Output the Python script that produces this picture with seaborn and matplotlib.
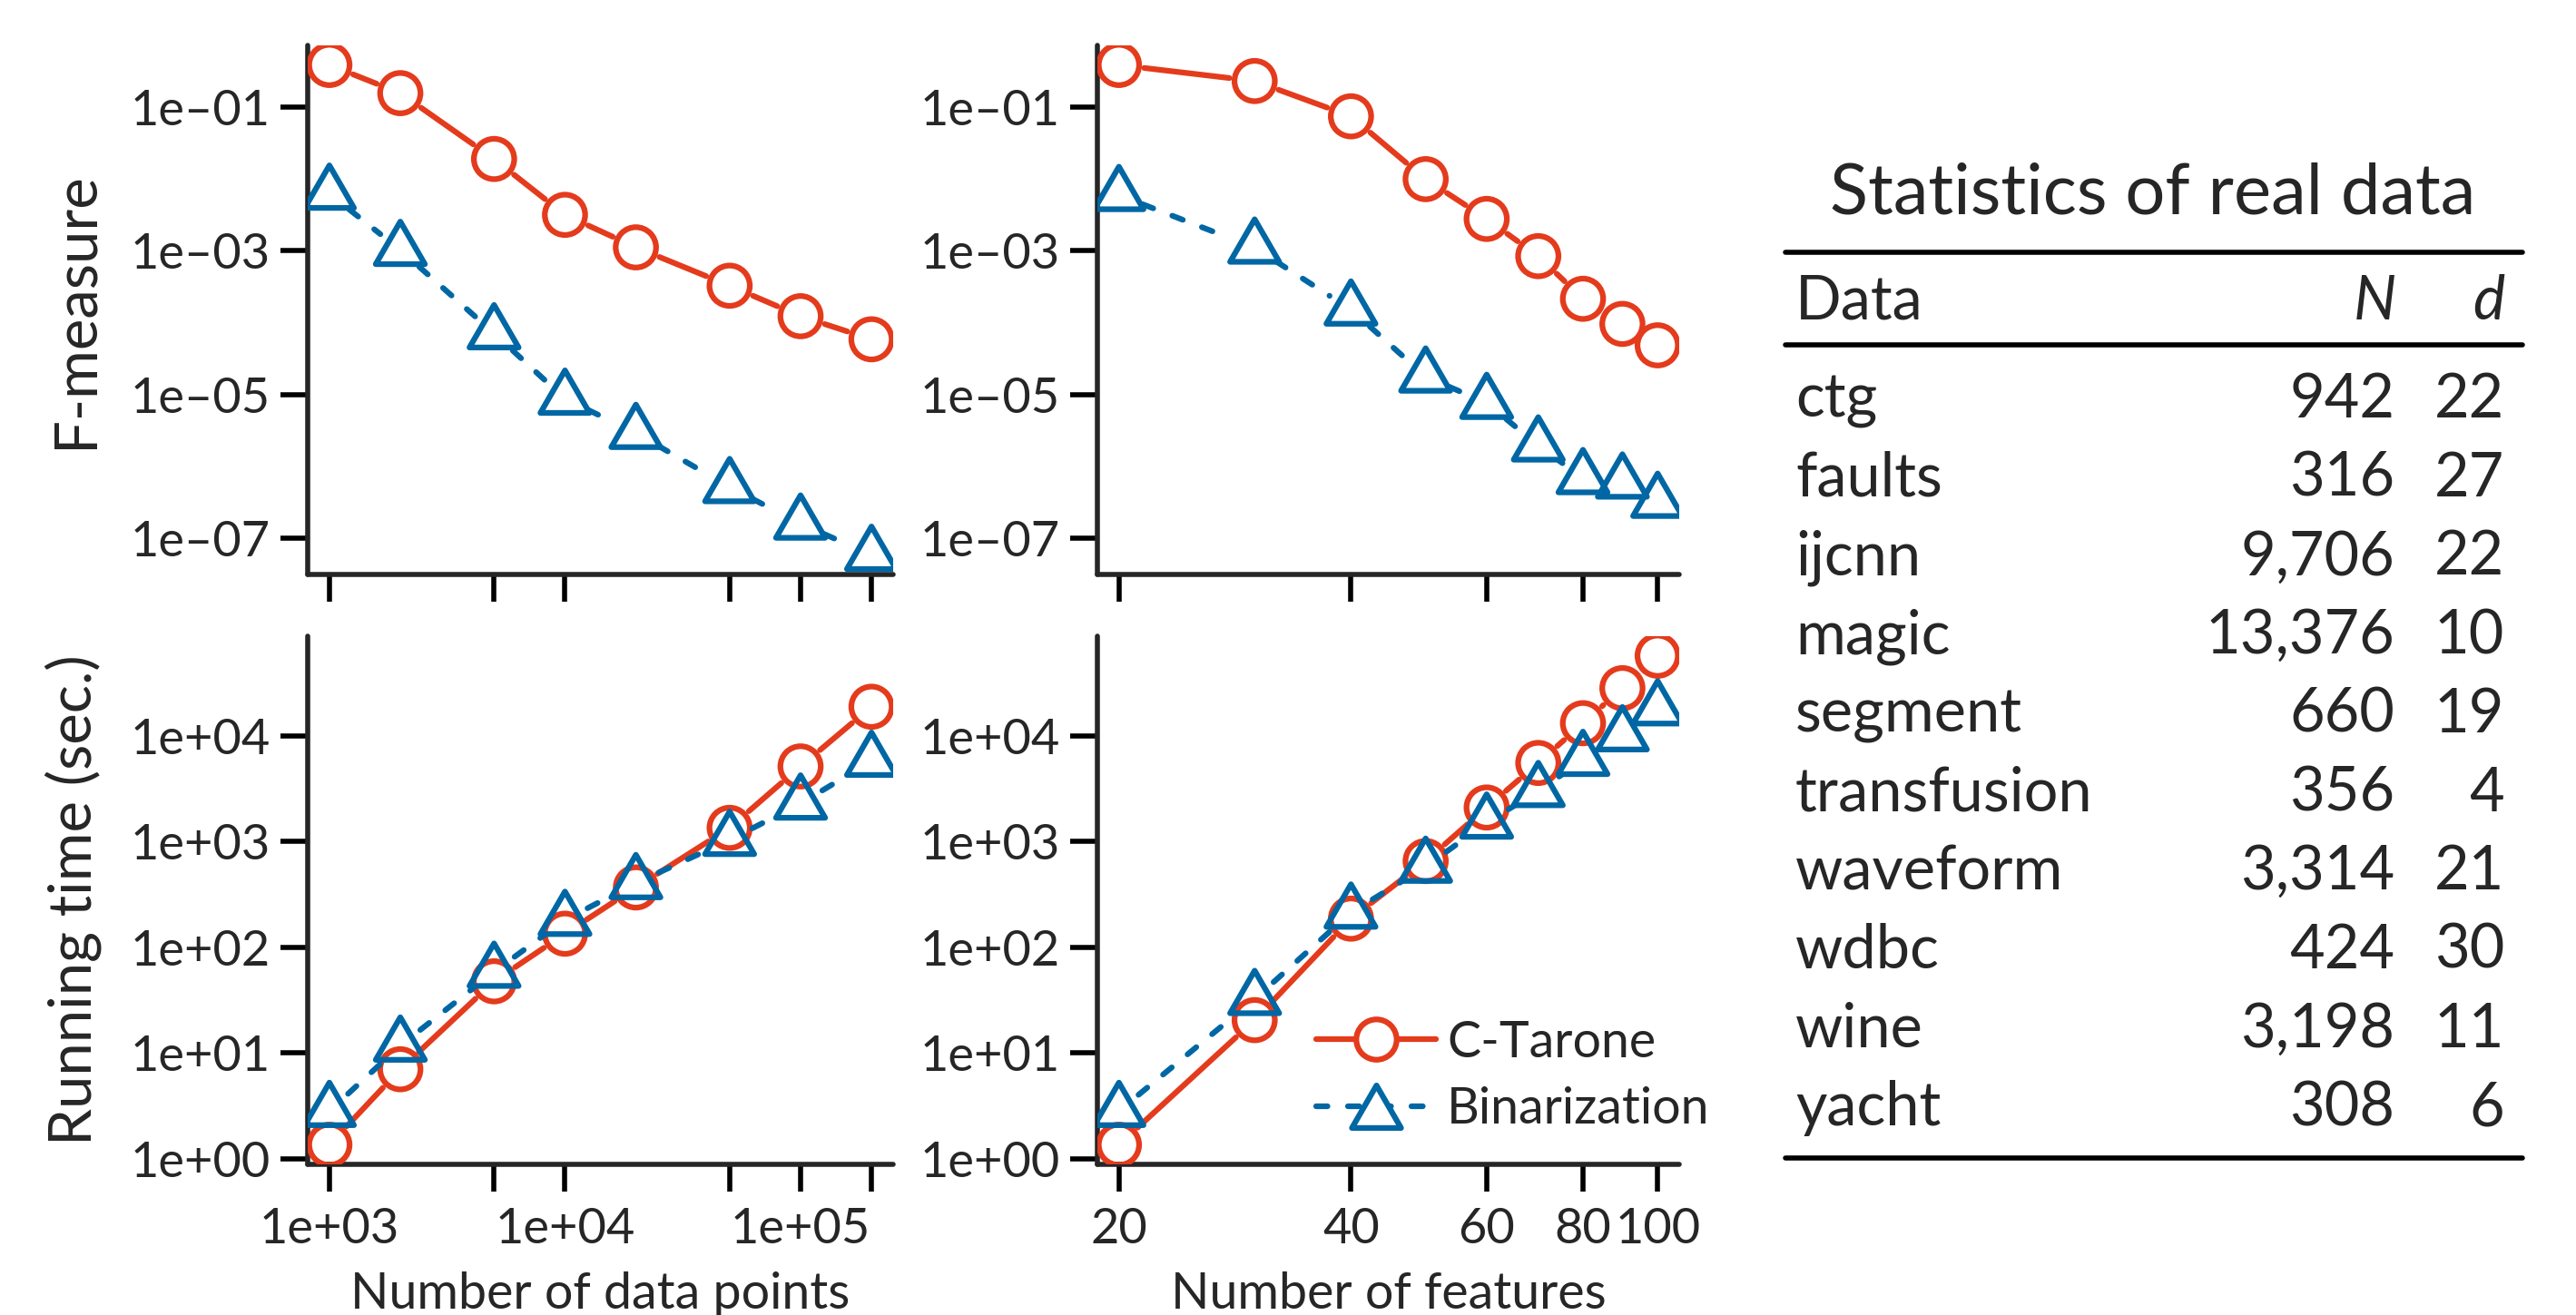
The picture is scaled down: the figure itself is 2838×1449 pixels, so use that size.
import numpy as np
import pandas as pd
import matplotlib
matplotlib.use("Agg")
import matplotlib.pyplot as plt
from matplotlib.path import Path
from matplotlib.lines import Line2D
import seaborn as sns

# ---------------- data ----------------
n_points = [1000, 2000, 5000, 10000, 20000, 50000, 100000, 200000]
fmeasure_ctarone_points = [0.39, 0.158, 0.0191, 0.00318, 0.00112, 3.27e-4, 1.23e-4, 5.86e-5]
fmeasure_binar_points = [6.26e-3, 1.03e-3, 7.1e-5, 8.7e-6, 2.9e-6, 5.1e-7, 1.58e-7, 5.8e-8]
time_ctarone_points = [1.35, 7.0, 47.5, 134, 367, 1345, 5125, 18800]
time_binar_points = [2.82, 11.7, 58.5, 181, 403, 1033, 2280, 5790]

n_features = [20, 30, 40, 50, 60, 70, 80, 90, 100]
fmeasure_ctarone_features = [0.39, 0.233, 0.0751, 0.0100, 2.79e-3, 8.45e-4, 2.15e-4, 9.6e-5, 4.83e-5]
fmeasure_binar_features = [6.0e-3, 1.11e-3, 1.52e-4, 1.77e-5, 7.6e-6, 1.94e-6, 6.8e-7, 5.9e-7, 3.18e-7]
time_ctarone_features = [1.35, 20.4, 186, 652, 2094, 5525, 13140, 28180, 57100]
time_binar_features = [2.82, 32.3, 212, 576, 1506, 2995, 5900, 10090, 17750]

xticks_points = [1e3, 5e3, 1e4, 5e4, 1e5, 2e5]
xticklabels_points = ["1e+03", "", "1e+04", "", "1e+05", ""]
xticks_features = [20, 40, 60, 80, 100]
xticklabels_features = ["20", "40", "60", "80", "100"]
yticks_fmeasure = [1e-1, 1e-3, 1e-5, 1e-7]
yticks_time = [1e0, 1e1, 1e2, 1e3, 1e4]

series_names = ["C-Tarone", "Binarization"]

table_title = "Statistics of real data"
table_header = ["Data", "N", "d"]
data_names = ["ctg", "faults", "ijcnn", "magic", "segment", "transfusion",
              "waveform", "wdbc", "wine", "yacht"]
data_N = [942, 316, 9706, 13376, 660, 356, 3314, 424, 3198, 308]
data_d = [22, 27, 22, 10, 19, 4, 21, 30, 11, 6]

# ---------------- style ----------------
sns.set_style("ticks")
plt.rcParams["font.family"] = ["Lato", "DejaVu Sans"]

RED = "#E43B1D"
BLUE = "#0067A4"
LW = 4.5          # pt
GAP = 28          # px gap around points (R type="b")
MS_CIRCLE = 32    # pt
MS_TRI = 45       # pt
TICK_FS = 39
XLABEL_FS = 40
YLABEL_FS = 47
LEG_FS = 40

W, H = 2838, 1449
fig = plt.figure(figsize=(W / 100, H / 100), dpi=100)


def px_rect(left, top, right, bottom):
    return [left / W, 1 - bottom / H, (right - left) / W, (bottom - top) / H]


def fx(px):
    return px / W


def fy(py):
    return 1 - py / H


def log_lim(*series, frac=0.04):
    v = np.log10(np.concatenate([np.asarray(s, float) for s in series]))
    lo, hi = v.min(), v.max()
    pad = frac * (hi - lo)
    return 10 ** (lo - pad), 10 ** (hi + pad)


tri_centroid = Path([(0, 1), (0.866, -0.5), (-0.866, -0.5), (0, 1)],
                    [Path.MOVETO, Path.LINETO, Path.LINETO, Path.CLOSEPOLY])
tri_legend = Path([(0, 0.75), (0.866, -0.75), (-0.866, -0.75), (0, 0.75)],
                  [Path.MOVETO, Path.LINETO, Path.LINETO, Path.CLOSEPOLY])

LS_SOLID = "-"
LS_DASH = (0, (2.0, 3.6))


def draw_series(ax, x, y, color, marker, ms, ls, z):
    pts = ax.transData.transform(np.column_stack([x, y]))
    inv = ax.transData.inverted()
    rows = []
    for i in range(len(x) - 1):
        p0, p1 = pts[i], pts[i + 1]
        d = p1 - p0
        L = np.hypot(*d)
        if L > 2 * GAP:
            u = d / L
            a = inv.transform(p0 + u * GAP)
            b = inv.transform(p1 - u * GAP)
            rows.append((a[0], a[1], i))
            rows.append((b[0], b[1], i))
    seg = pd.DataFrame(rows, columns=["x", "y", "seg"])
    sns.lineplot(data=seg, x="x", y="y", units="seg", estimator=None, sort=False,
                 color=color, lw=LW, ls=ls, dash_capstyle="round",
                 solid_capstyle="round", ax=ax, zorder=z)
    sns.scatterplot(x=x, y=y, ax=ax, color=color, marker=marker, s=ms ** 2,
                    zorder=z + 0.1)
    coll = ax.collections[-1]
    coll.set_facecolor("none")
    coll.set_edgecolor(color)
    coll.set_linewidth(LW)


def exp_label(v):
    e = int(round(np.log10(v)))
    return f"1e{e:+03d}".replace("-", "\u2013")


def style_axes(ax, xlim, ylim, xticks, xlabels, yticks):
    ax.set_xscale("log")
    ax.set_yscale("log")
    ax.set_xlim(*xlim)
    ax.set_ylim(*ylim)
    ax.set_xticks(xticks)
    ax.set_xticklabels(xlabels)
    ax.set_yticks(yticks)
    ax.set_yticklabels([exp_label(v) for v in yticks])
    ax.minorticks_off()
    for s in ["top", "right"]:
        ax.spines[s].set_visible(False)
    for s in ["left", "bottom"]:
        ax.spines[s].set_linewidth(4.0)
        ax.spines[s].set_capstyle("round")
    ax.tick_params(axis="both", which="major", length=21.6, width=4.0,
                   labelsize=TICK_FS, color="black")
    ax.tick_params(axis="y", pad=8)
    ax.tick_params(axis="x", pad=12)
    ax.set_facecolor("white")


ax_tl = fig.add_axes(px_rect(339, 50, 984, 633))
ax_tr = fig.add_axes(px_rect(1209, 50, 1850, 633))
ax_bl = fig.add_axes(px_rect(339, 701, 984, 1283))
ax_br = fig.add_axes(px_rect(1209, 701, 1850, 1283))

xlim_points = log_lim(n_points)
xlim_features = log_lim(n_features)
ylim_f = log_lim(fmeasure_ctarone_points, fmeasure_binar_points,
                 fmeasure_ctarone_features, fmeasure_binar_features)
ylim_t = log_lim(time_ctarone_points, time_binar_points,
                 time_ctarone_features, time_binar_features)

panels = [
    (ax_tl, n_points, fmeasure_ctarone_points, fmeasure_binar_points,
     xlim_points, ylim_f, xticks_points, ["" for _ in xticks_points], yticks_fmeasure),
    (ax_tr, n_features, fmeasure_ctarone_features, fmeasure_binar_features,
     xlim_features, ylim_f, xticks_features, ["" for _ in xticks_features], yticks_fmeasure),
    (ax_bl, n_points, time_ctarone_points, time_binar_points,
     xlim_points, ylim_t, xticks_points, xticklabels_points, yticks_time),
    (ax_br, n_features, time_ctarone_features, time_binar_features,
     xlim_features, ylim_t, xticks_features, xticklabels_features, yticks_time),
]

for ax, x, yc, yb, xl, yl, xt, xtl, yt in panels:
    style_axes(ax, xl, yl, xt, xtl, yt)
    draw_series(ax, x, yc, RED, "o", MS_CIRCLE, LS_SOLID, 3)
    draw_series(ax, x, yb, BLUE, tri_centroid, MS_TRI, LS_DASH, 4)
    style_axes(ax, xl, yl, xt, xtl, yt)
    ax.set_xlabel("")
    ax.set_ylabel("")

# axis labels
ax_tl.set_ylabel("F-measure", fontsize=YLABEL_FS, va="baseline")
ax_tl.yaxis.set_label_coords(fx(101), fy((50 + 633) / 2), transform=fig.transFigure)
ax_bl.set_ylabel("Running time (sec.)", fontsize=YLABEL_FS, va="baseline")
ax_bl.yaxis.set_label_coords(fx(101), fy((701 + 1283) / 2), transform=fig.transFigure)
ax_bl.set_xlabel("Number of data points", fontsize=XLABEL_FS, va="baseline")
ax_bl.xaxis.set_label_coords(fx((339 + 984) / 2), fy(1442), transform=fig.transFigure)
ax_br.set_xlabel("Number of features", fontsize=XLABEL_FS, va="baseline")
ax_br.xaxis.set_label_coords(fx((1209 + 1850) / 2), fy(1442), transform=fig.transFigure)

# legend
handles = [
    Line2D([], [], color=RED, lw=LW, ls=LS_SOLID, marker="o", ms=MS_CIRCLE,
           mfc="white", mec=RED, mew=LW, solid_capstyle="round"),
    Line2D([], [], color=BLUE, lw=LW, ls=LS_DASH, marker=tri_legend, ms=MS_TRI * 0.866,
           mfc="white", mec=BLUE, mew=LW, dash_capstyle="round"),
]
leg = ax_br.legend(handles, series_names, loc="center left",
                   bbox_to_anchor=(fx(1450), fy(1186)), bbox_transform=fig.transFigure,
                   frameon=False, fontsize=LEG_FS, handlelength=2.37,
                   handletextpad=0.22, labelspacing=0.4, borderpad=0,
                   borderaxespad=0)

# ---------------- table ----------------
TABLE_FS = 48
x_left, x_right = 1967, 2779
fig.text(fx(2372), fy(235), table_title, fontsize=56, ha="center", va="baseline")
for yy in [278, 380, 1276]:
    fig.add_artist(Line2D([fx(x_left), fx(x_right)], [fy(yy), fy(yy)],
                          transform=fig.transFigure, color="black", lw=4.0,
                          solid_capstyle="round"))
fig.text(fx(1978), fy(352), table_header[0], fontsize=TABLE_FS, ha="left", va="baseline")
fig.text(fx(2640), fy(352), table_header[1], fontsize=TABLE_FS, ha="right",
         va="baseline", style="italic")
fig.text(fx(2759), fy(352), table_header[2], fontsize=TABLE_FS, ha="right",
         va="baseline", style="italic")
for i, (name, n, d) in enumerate(zip(data_names, data_N, data_d)):
    yb = 460 + i * 86.7
    fig.text(fx(1978), fy(yb), name, fontsize=TABLE_FS, ha="left", va="baseline")
    fig.text(fx(2638), fy(yb), f"{n:,}", fontsize=TABLE_FS, ha="right", va="baseline")
    fig.text(fx(2759), fy(yb), f"{d}", fontsize=TABLE_FS, ha="right", va="baseline")

fig.savefig("out.png", dpi=100, facecolor="white")
